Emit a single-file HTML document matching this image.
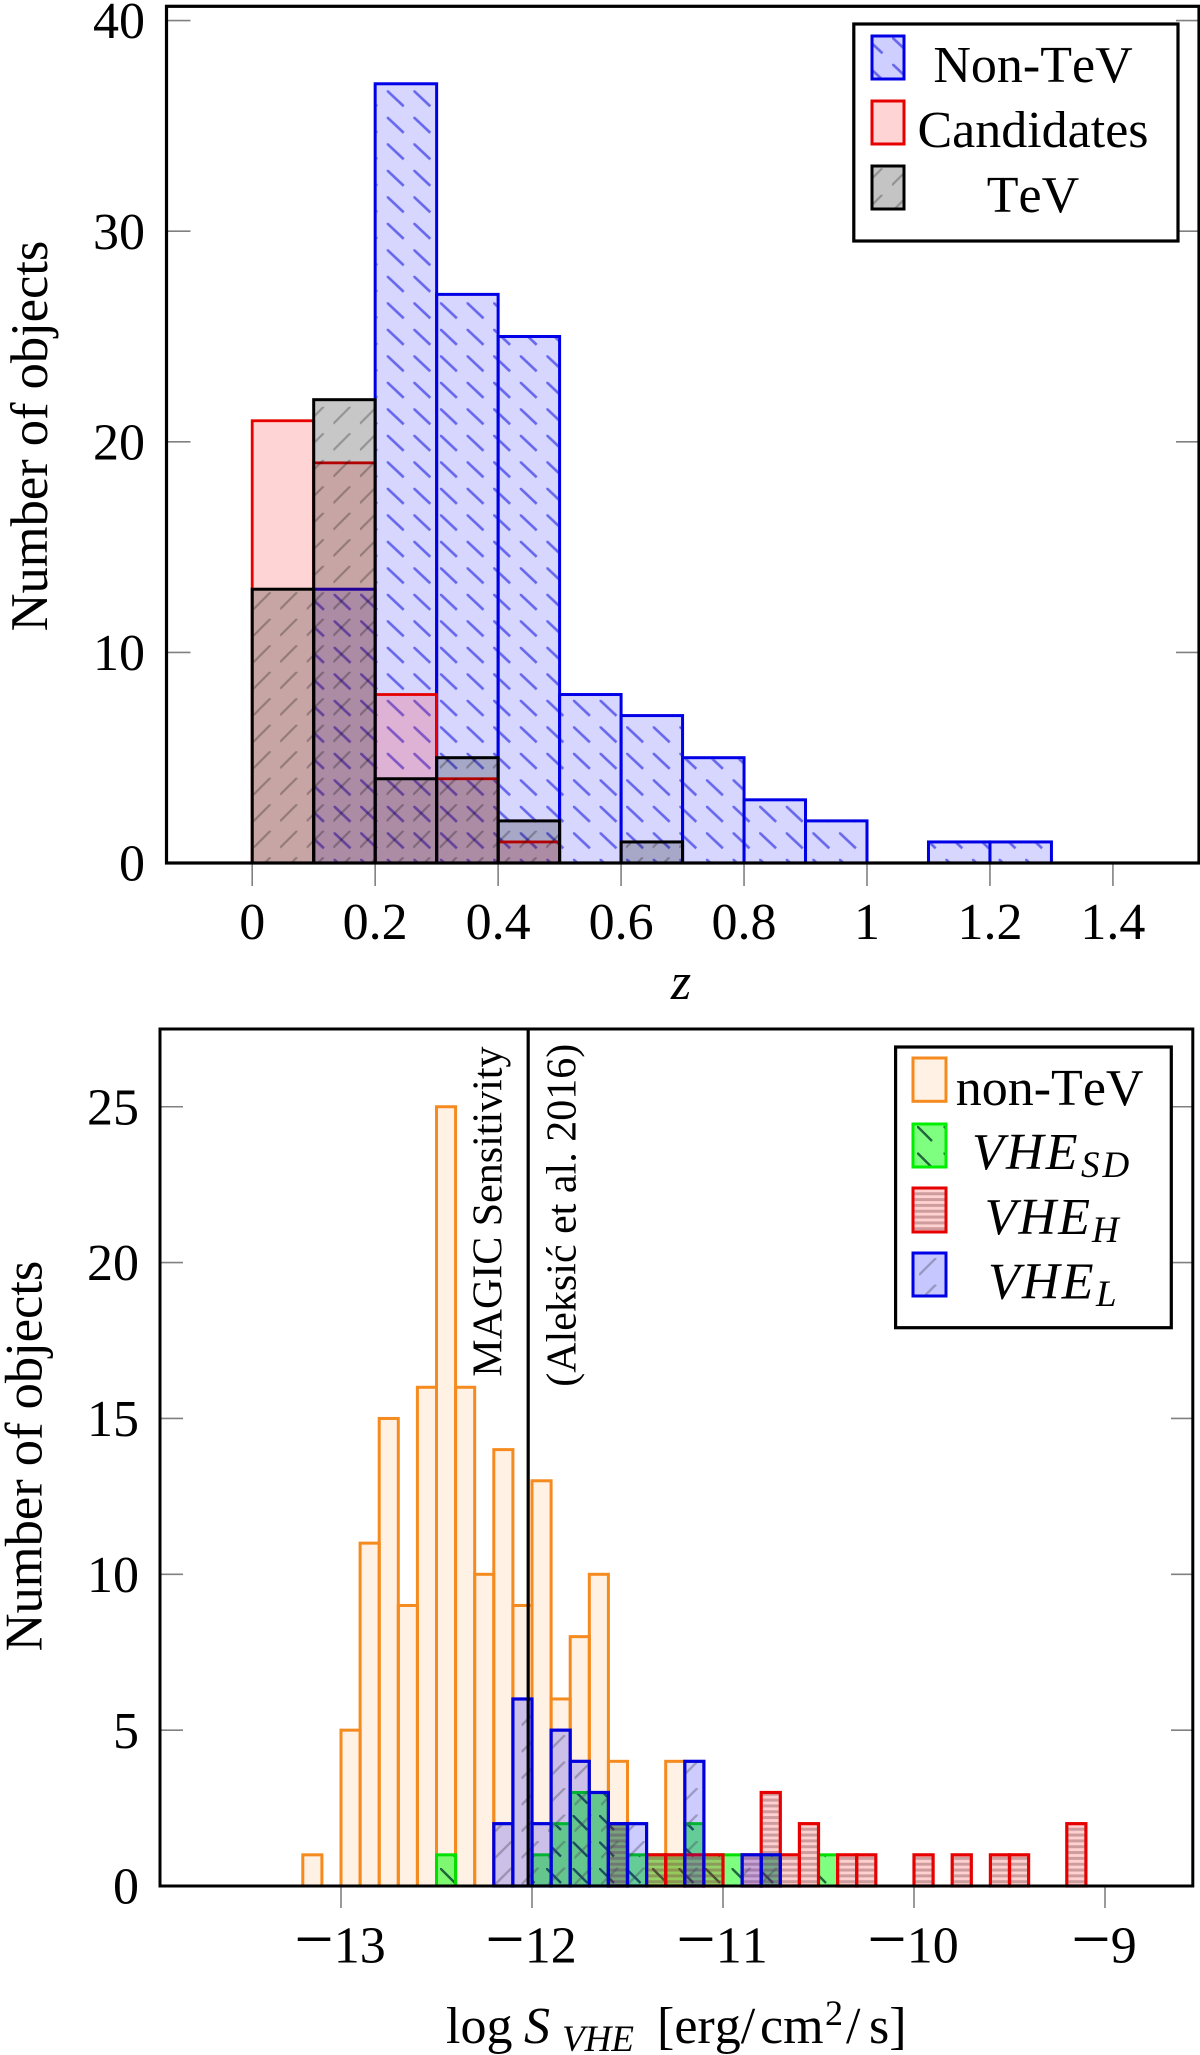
<!DOCTYPE html>
<html lang="en">
<head>
<meta charset="utf-8">
<title>Histograms of redshift and VHE flux</title>
<style>
html,body{margin:0;padding:0;background:#fff;}
svg{display:block;}
text{font-family:"Liberation Serif","Noto Serif CJK SC",serif;fill:#000;font-kerning:none;}
</style>
</head>
<body>
<svg id="fig" xmlns="http://www.w3.org/2000/svg" width="1200" height="2055" viewBox="0 0 1200 2055">
  <defs>
    <pattern id="hatch-nontev" patternUnits="userSpaceOnUse" x="386.7" y="408.3" width="26.6" height="26.5">
      <line x1="0" y1="0" x2="17" y2="16" stroke="rgba(60,60,230,0.72)" stroke-width="2.6"/>
    </pattern>
    <pattern id="hatch-tev" patternUnits="userSpaceOnUse" x="333.3" y="406.7" width="26.6" height="26.5">
      <line x1="0" y1="17" x2="17" y2="0" stroke="rgba(0,0,0,0.26)" stroke-width="2.2"/>
    </pattern>
    <pattern id="hatch-sd" patternUnits="userSpaceOnUse" x="440" y="1868" width="26.5" height="26.5">
      <line x1="0" y1="0" x2="15" y2="15" stroke="rgba(0,50,40,0.75)" stroke-width="2.4"/>
    </pattern>
    <pattern id="hatch-h" patternUnits="userSpaceOnUse" x="0" y="1880.2" width="5.83" height="5.83">
      <rect x="0" y="0" width="5.83" height="3" fill="rgba(120,60,60,0.36)"/>
    </pattern>
    <pattern id="hatch-l" patternUnits="userSpaceOnUse" x="495" y="1841" width="26.5" height="26.5">
      <line x1="0" y1="17" x2="17" y2="0" stroke="rgba(70,70,90,0.36)" stroke-width="2.4"/>
    </pattern>
  </defs>

  <g id="top-chart">
    <g id="top-bars"></g>
    <g id="top-ticks"></g>
    <rect x="166.5" y="6.3" width="1032.5" height="856.7" fill="none" stroke="#000" stroke-width="3.2"/>
    <text transform="translate(47,436) rotate(-90)" text-anchor="middle" font-size="52.5">Number of objects</text>
    <text x="681" y="999" text-anchor="middle" font-size="52" font-style="italic">z</text>
    <g>
      <rect x="853.8" y="24" width="324.2" height="217" fill="#fff" stroke="#000" stroke-width="3.2"/>
      <g>
        <rect x="872" y="36" width="32" height="43" fill="#0000ff" fill-opacity="0.19" stroke="#0000e6" stroke-width="3"/>
        <rect x="873.4" y="37.4" width="29.2" height="40.2" fill="url(#hatch-nontev)"/>
        <text x="1033" y="82" text-anchor="middle" font-size="52">Non-TeV</text>
      </g>
      <g>
        <rect x="872" y="101" width="32" height="43" fill="#ff0000" fill-opacity="0.17" stroke="#e60000" stroke-width="3"/>
        <text x="1033" y="147" text-anchor="middle" font-size="52">Candidates</text>
      </g>
      <g>
        <rect x="872" y="166" width="32" height="43" fill="#000" fill-opacity="0.23" stroke="#000" stroke-width="3"/>
        <rect x="873.4" y="167.4" width="29.2" height="40.2" fill="url(#hatch-tev)"/>
        <text x="1033" y="212" text-anchor="middle" font-size="52">TeV</text>
      </g>
    </g>
  </g>

  <g id="bottom-chart">
    <g id="bottom-bars"></g>
    <g id="bottom-ticks"></g>
    <rect x="160" y="1029" width="1032.8" height="857" fill="none" stroke="#000" stroke-width="3"/>
    <line id="sensitivity-line" y1="1029" y2="1886" stroke="#000" stroke-width="3.2"/>
    <text transform="translate(501.4,1376.7) rotate(-90)" font-size="42">MAGIC Sensitivity</text>
    <text transform="translate(575.3,1386.7) rotate(-90)" font-size="42">(Aleksić et al. 2016)</text>
    <text transform="translate(41.5,1456) rotate(-90)" text-anchor="middle" font-size="52.5">Number of objects</text>
    <text y="2043" font-size="52"><tspan x="446">log</tspan><tspan x="524" font-style="italic">S</tspan><tspan x="562" y="2051" font-size="37" font-style="italic">VHE</tspan><tspan x="657" y="2043">[erg/</tspan><tspan x="760">cm</tspan><tspan x="825" y="2025" font-size="36">2</tspan><tspan x="846" y="2043">/</tspan><tspan x="869">s]</tspan></text>
    <g>
      <rect x="895.6" y="1047" width="275.7" height="280.7" fill="#fff" stroke="#000" stroke-width="3.2"/>
      <g>
        <rect x="913" y="1058" width="33" height="43.3" fill="#ff8000" fill-opacity="0.11" stroke="#f58a1f" stroke-width="3"/>
        <text x="1049.6" y="1105" text-anchor="middle" font-size="52">non-TeV</text>
      </g>
      <g>
        <rect x="913" y="1124" width="33" height="43" fill="#00ff00" fill-opacity="0.5" stroke="#00ee00" stroke-width="3"/>
        <rect x="914.4" y="1125.4" width="30.2" height="40.2" fill="url(#hatch-sd)"/>
        <text y="1169" font-size="52" font-style="italic"><tspan x="972" letter-spacing="2.2">VHE</tspan><tspan x="1081" y="1177" font-size="37" letter-spacing="3">SD</tspan></text>
      </g>
      <g>
        <rect x="913" y="1188" width="33" height="44" fill="#ff0000" fill-opacity="0.18" stroke="#e60000" stroke-width="3"/>
        <rect x="914.4" y="1189.4" width="30.2" height="41.2" fill="url(#hatch-h)"/>
        <text y="1234" font-size="52" font-style="italic"><tspan x="984.6" letter-spacing="2.2">VHE</tspan><tspan x="1092" y="1242" font-size="37">H</tspan></text>
      </g>
      <g>
        <rect x="913" y="1253" width="33" height="43" fill="#0000ff" fill-opacity="0.22" stroke="#0000e6" stroke-width="3"/>
        <rect x="914.4" y="1254.4" width="30.2" height="40.2" fill="url(#hatch-l)"/>
        <text y="1298.3" font-size="52" font-style="italic"><tspan x="988" letter-spacing="2.2">VHE</tspan><tspan x="1096" y="1306" font-size="37">L</tspan></text>
      </g>
    </g>
  </g>
</svg>

<script>
// ---- redshift histogram data ----
const zBinStarts = [0, 0.1, 0.2, 0.3, 0.4, 0.5, 0.6, 0.7, 0.8, 0.9, 1.0, 1.1, 1.2];
const zBinWidth = 0.1;
const nonTevCounts = [0, 13, 37, 27, 25, 8, 7, 5, 3, 2, 0, 1, 1];
const candidateCounts = [21, 19, 8, 4, 1, 0, 0, 0, 0, 0, 0, 0, 0];
const tevCounts = [13, 22, 4, 5, 2, 0, 1, 0, 0, 0, 0, 0, 0];
const zTickValues = [0, 0.2, 0.4, 0.6, 0.8, 1, 1.2, 1.4];
const zTickLabels = ["0", "0.2", "0.4", "0.6", "0.8", "1", "1.2", "1.4"];
const zCountTicks = [0, 10, 20, 30, 40];
const zCountTickLabels = ["0", "10", "20", "30", "40"];

// ---- flux histogram data ----
const fluxBinStarts = [-13.2, -13.1, -13.0, -12.9, -12.8, -12.7, -12.6, -12.5, -12.4, -12.3, -12.2, -12.1, -12.0, -11.9, -11.8, -11.7, -11.6, -11.5, -11.4, -11.3, -11.2, -11.1, -11.0, -10.9, -10.8, -10.7, -10.6, -10.5, -10.4, -10.3, -10.2, -10.1, -10.0, -9.9, -9.8, -9.7, -9.6, -9.5, -9.4, -9.3, -9.2];
const fluxBinWidth = 0.1;
const nonTevFlux = [1, 0, 5, 11, 15, 9, 16, 25, 16, 10, 14, 9, 13, 6, 8, 10, 4, 0, 0, 4, 0, 0, 0, 0, 0, 0, 0, 0, 0, 0, 0, 0, 0, 0, 0, 0, 0, 0, 0, 0, 0];
const vheSdFlux = [0, 0, 0, 0, 0, 0, 0, 1, 0, 0, 0, 0, 1, 2, 3, 3, 2, 1, 1, 1, 2, 1, 1, 0, 1, 0, 0, 1, 0, 0, 0, 0, 0, 0, 0, 0, 0, 0, 0, 0, 0];
const vheHFlux = [0, 0, 0, 0, 0, 0, 0, 0, 0, 0, 0, 0, 0, 0, 0, 0, 2, 0, 1, 1, 1, 1, 0, 1, 3, 1, 2, 0, 1, 1, 0, 0, 1, 0, 1, 0, 1, 1, 0, 0, 2];
const vheLFlux = [0, 0, 0, 0, 0, 0, 0, 0, 0, 0, 2, 6, 2, 5, 4, 3, 2, 2, 0, 0, 4, 0, 0, 1, 1, 0, 0, 0, 0, 0, 0, 0, 0, 0, 0, 0, 0, 0, 0, 0, 0];
const fluxTickValues = [-13, -12, -11, -10, -9];
const fluxTickDigits = ["13", "12", "11", "10", "9"];
const fluxCountTicks = [0, 5, 10, 15, 20, 25];
const fluxCountTickLabels = ["0", "5", "10", "15", "20", "25"];
const sensitivityValue = -12.02;

// ---- axis functions ----
function zX(v) { return 252.2 + 614.8 * v; }
function zY(v) { return 863 - 21.06 * v; }
function fluxX(v) { return 341 + 191 * (v + 13); }
function fluxY(v) { return 1886 - 31.17 * v; }

const NS = 'http://www.w3.org/2000/svg';

function drawSeries(host, starts, width, values, xFn, yFn, name, style) {
  values.forEach(function (value, i) {
    if (value <= 0) { return; }
    const x0 = xFn(starts[i]);
    const x1 = xFn(starts[i] + width);
    const top = yFn(value);
    const base = yFn(0);
    const bar = document.createElementNS(NS, 'rect');
    
    
    bar.setAttribute('x', x0);
    bar.setAttribute('y', top);
    bar.setAttribute('width', x1 - x0);
    bar.setAttribute('height', base - top);
    bar.setAttribute('fill', style.fill);
    bar.setAttribute('fill-opacity', style.opacity);
    bar.setAttribute('stroke', style.stroke);
    bar.setAttribute('stroke-width', style.strokeWidth);
    host.appendChild(bar);
    if (style.hatch) {
      const hatch = document.createElementNS(NS, 'rect');
      
      
      hatch.setAttribute('x', x0 + 1.5);
      hatch.setAttribute('y', top + 1.5);
      hatch.setAttribute('width', x1 - x0 - 3);
      hatch.setAttribute('height', Math.max(0, base - top - 1.5));
      hatch.setAttribute('fill', 'url(#' + style.hatch + ')');
      host.appendChild(hatch);
    }
  });
}

function tickLine(host, name, x1, y1, x2, y2) {
  const line = document.createElementNS(NS, 'line');
  
  
  line.setAttribute('x1', x1);
  line.setAttribute('y1', y1);
  line.setAttribute('x2', x2);
  line.setAttribute('y2', y2);
  line.setAttribute('stroke', '#808080');
  line.setAttribute('stroke-width', '1.6');
  host.appendChild(line);
}

function tickText(host, name, x, y, anchor, content) {
  const t = document.createElementNS(NS, 'text');
  
  
  t.setAttribute('x', x);
  t.setAttribute('y', y);
  t.setAttribute('text-anchor', anchor);
  t.setAttribute('font-size', '52');
  t.textContent = content;
  host.appendChild(t);
  return t;
}

// ---- redshift chart ----
const topBars = document.getElementById('top-bars');
drawSeries(topBars, zBinStarts, zBinWidth, nonTevCounts, zX, zY, 'non-tev', { fill: '#0000ff', opacity: 0.16, stroke: '#0000e6', strokeWidth: 3, hatch: 'hatch-nontev' });
drawSeries(topBars, zBinStarts, zBinWidth, candidateCounts, zX, zY, 'candidates', { fill: '#ff0000', opacity: 0.17, stroke: '#e60000', strokeWidth: 2.8 });
drawSeries(topBars, zBinStarts, zBinWidth, tevCounts, zX, zY, 'tev', { fill: '#000000', opacity: 0.22, stroke: '#000000', strokeWidth: 3, hatch: 'hatch-tev' });

const topTicks = document.getElementById('top-ticks');
zTickValues.forEach(function (v, i) {
  tickLine(topTicks, 'x-tick-mark', zX(v), zY(0), zX(v), zY(0) + 23);
  tickText(topTicks, 'x-tick-label', zX(v), 939, 'middle', zTickLabels[i]);
});
zCountTicks.forEach(function (v, i) {
  if (v > 0) {
    tickLine(topTicks, 'y-tick-mark-left', 166.5, zY(v), 190.5, zY(v));
    tickLine(topTicks, 'y-tick-mark-right', 1176, zY(v), 1199, zY(v));
  }
  tickText(topTicks, 'y-tick-label', 145, zY(v) + 17.6, 'end', zCountTickLabels[i]);
});

// ---- flux chart ----
const bottomBars = document.getElementById('bottom-bars');
drawSeries(bottomBars, fluxBinStarts, fluxBinWidth, nonTevFlux, fluxX, fluxY, 'non-tev-flux', { fill: '#ff8000', opacity: 0.11, stroke: '#f58a1f', strokeWidth: 3 });
drawSeries(bottomBars, fluxBinStarts, fluxBinWidth, vheSdFlux, fluxX, fluxY, 'vhe-sd', { fill: '#00ff00', opacity: 0.5, stroke: '#00e000', strokeWidth: 3 , hatch: 'hatch-sd' });
drawSeries(bottomBars, fluxBinStarts, fluxBinWidth, vheHFlux, fluxX, fluxY, 'vhe-h', { fill: '#ff0000', opacity: 0.18, stroke: '#e60000', strokeWidth: 3.2, hatch: 'hatch-h' });
drawSeries(bottomBars, fluxBinStarts, fluxBinWidth, vheLFlux, fluxX, fluxY, 'vhe-l', { fill: '#0000ff', opacity: 0.2, stroke: '#0000dd', strokeWidth: 3.2, hatch: 'hatch-l' });

const bottomTicks = document.getElementById('bottom-ticks');
fluxTickValues.forEach(function (v, i) {
  tickLine(bottomTicks, 'flux-x-tick-mark', fluxX(v), fluxY(0), fluxX(v), fluxY(0) + 22);
  const label = tickText(bottomTicks, 'flux-x-tick-label', fluxX(v) - 1, 1962.7, 'middle', '');
  const minus = document.createElementNS(NS, 'tspan');
  minus.setAttribute('font-size', '70');
  minus.textContent = '\u2212';
  label.appendChild(minus);
  label.appendChild(document.createTextNode(fluxTickDigits[i]));
});
fluxCountTicks.forEach(function (v, i) {
  if (v > 0) {
    tickLine(bottomTicks, 'flux-y-tick-mark-left', 160, fluxY(v), 183, fluxY(v));
    tickLine(bottomTicks, 'flux-y-tick-mark-right', 1171, fluxY(v), 1192.8, fluxY(v));
  }
  tickText(bottomTicks, 'flux-y-tick-label', 139, fluxY(v) + 17.6, 'end', fluxCountTickLabels[i]);
});

const sensitivityLine = document.getElementById('sensitivity-line');
sensitivityLine.setAttribute('x1', fluxX(sensitivityValue));
sensitivityLine.setAttribute('x2', fluxX(sensitivityValue));
</script>
</body>
</html>
